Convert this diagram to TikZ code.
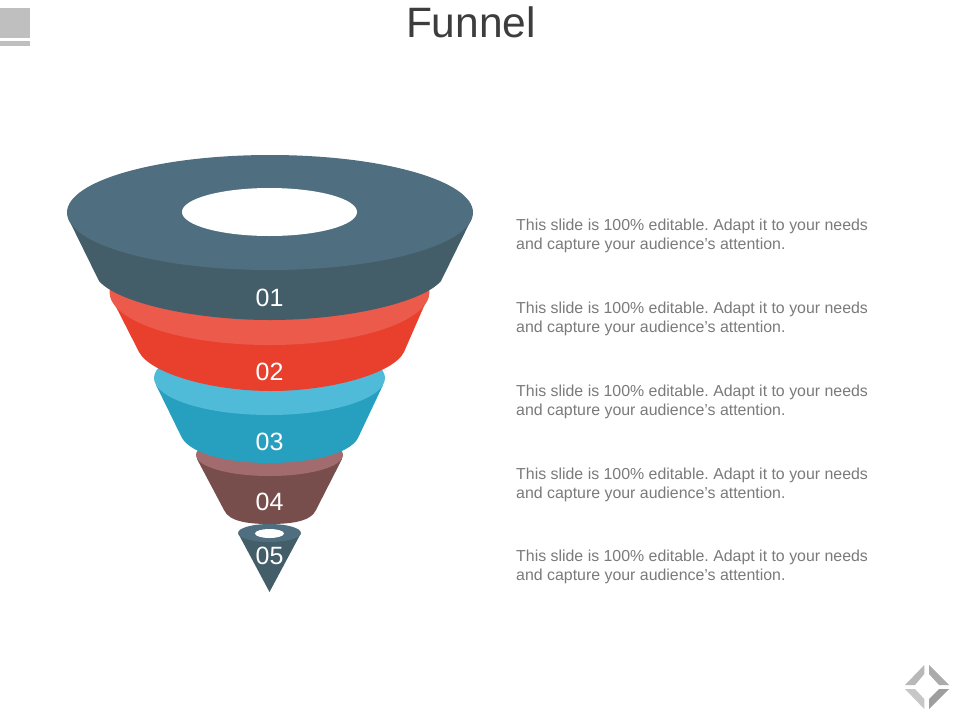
\documentclass[tikz,border=0pt]{standalone}
\usepackage{fontspec}
\setmainfont{Liberation Sans}
\definecolor{slatetop}{HTML}{4F6F80}
\definecolor{slatedark}{HTML}{435D69}
\definecolor{redtop}{HTML}{EB5A4A}
\definecolor{reddark}{HTML}{E8402C}
\definecolor{bluetop}{HTML}{4FBBD8}
\definecolor{bluedark}{HTML}{27A0BF}
\definecolor{browntop}{HTML}{A26B6E}
\definecolor{browndark}{HTML}{784E4D}
\definecolor{bodytext}{HTML}{7A7A7A}
\definecolor{titletext}{HTML}{3D3D3D}
\tikzset{
  x=1pt,y=-1pt,
  numlabel/.style={text=white,font=\fontsize{25}{25}\selectfont,inner sep=0pt},
  desc/.style={text=bodytext,font=\frenchspacing\fontsize{15.9}{19}\selectfont,align=left,anchor=west,inner sep=0pt}
}
\newcommand{\desctext}{This slide is 100\% editable. Adapt it to your needs\\and capture your audience\symbol{39}s attention.}
\begin{document}
\begin{tikzpicture}
\useasboundingbox (0,0) rectangle (960,720);
% corner bars
\fill[black!25] (0,8) rectangle (30,38);
\fill[black!25] (0,41) rectangle (30,46);
% title
\node[text=titletext,font=\fontsize{42.5}{43}\selectfont,inner sep=0pt] (title) at (471,22) {Funnel};
% layer 5
\fill[slatedark] (238.5,534) -- (269.5,592) -- (300.5,534) -- cycle;
\fill[slatetop] (269.5,533) ellipse [x radius=31.5,y radius=9];
\fill[white] (269.5,533.5) ellipse [x radius=14.5,y radius=4.5];
% layer 4
\fill[browndark] (197,459) -- (224,510) .. controls (229,522) and (250,524) .. (269.5,524)
  .. controls (289,524) and (311,522) .. (316,510) -- (342,459) -- cycle;
\fill[browntop] (269.5,455) ellipse [x radius=73.5,y radius=21];
% layer 3
\fill[bluedark] (156,385) -- (182,438) .. controls (192,455) and (232,463) .. (269.5,463)
  .. controls (307,463) and (349,455) .. (358,438) -- (383,385) -- cycle;
\fill[bluetop] (269.5,378) ellipse [x radius=115.5,y radius=37];
% layer 2
\fill[reddark] (111,297) -- (139,352) .. controls (150,373) and (210,391) .. (271,391)
  .. controls (332,391) and (394,373) .. (404,352) -- (428,297) -- cycle;
\fill[redtop] (269.5,292) ellipse [x radius=160,y radius=53];
% layer 1
\fill[slatedark] (68,218) -- (99,281) .. controls (118,303) and (195,320) .. (270,320)
  .. controls (345,320) and (422,303) .. (441,281) -- (472,218) -- cycle;
\fill[slatetop] (270,212.5) ellipse [x radius=203,y radius=57.5];
\fill[white] (269.5,212) ellipse [x radius=87.5,y radius=24];
% numbers
\node[numlabel] (n1) at (269.5,298) {01};
\node[numlabel] (n2) at (269.5,372) {02};
\node[numlabel] (n3) at (269.5,442) {03};
\node[numlabel] (n4) at (269.5,502) {04};
\node[numlabel] (n5) at (269.5,556) {05};
% descriptions
\node[desc] (d1) at (516,235.75) {\desctext};
\node[desc] (d2) at (516,318.75) {\desctext};
\node[desc] (d3) at (516,401.75) {\desctext};
\node[desc] (d4) at (516,484.75) {\desctext};
\node[desc] (d5) at (516,566.75) {\desctext};
% logo
\fill[black!28] (924.3,665) -- (924.3,674) -- (915,685) -- (905,685) -- cycle;
\fill[black!33] (929,665) -- (949,685) -- (939,685) -- (929,674) -- cycle;
\fill[black!22] (905,689) -- (915,689) -- (924.3,699) -- (924.3,709) -- cycle;
\fill[black!38] (949,689) -- (939,689) -- (929,699) -- (929,709) -- cycle;
\end{tikzpicture}
\end{document}
